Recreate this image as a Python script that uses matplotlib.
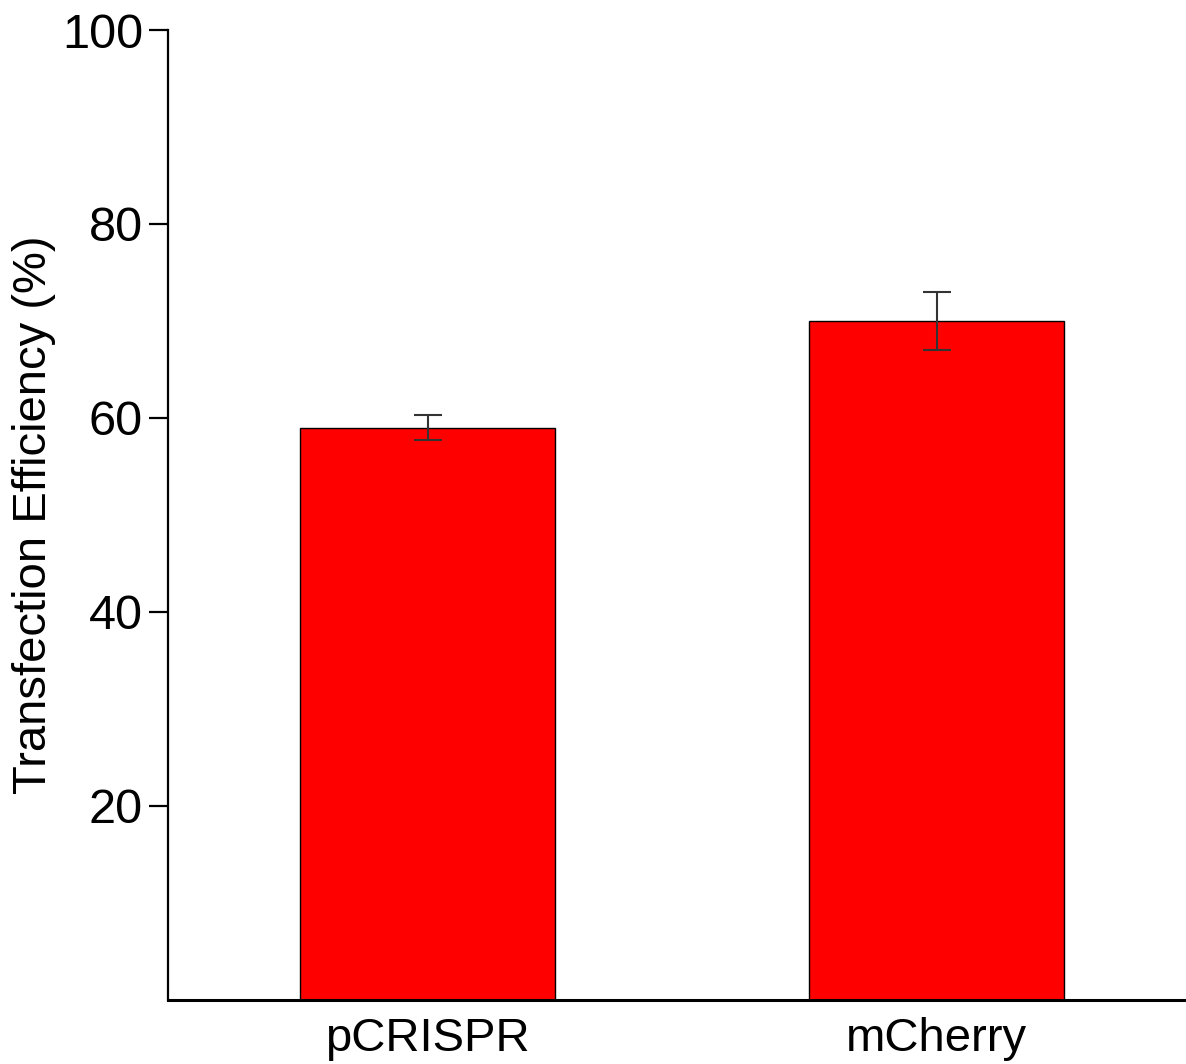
import matplotlib.pyplot as plt

categories = ["pCRISPR", "mCherry"]
efficiency = [59.0, 70.0]
errors = [1.3, 3.0]
y_ticks = [20, 40, 60, 80, 100]

plt.rcParams['font.family'] = ['Liberation Sans', 'DejaVu Sans']

fig = plt.figure(figsize=(11.86, 10.64), dpi=100)
ax = fig.add_axes([0.1417, 0.0602, 0.8583, 0.9116])

x = range(len(categories))
ax.bar(x, efficiency, width=0.5, color="#ff0000", edgecolor="black", linewidth=1.0,
       yerr=errors, capsize=10, error_kw=dict(ecolor="#333333", elinewidth=1.5, capthick=1.5))

ax.set_xlim(-0.51, 1.49)
ax.set_ylim(0, 100)
ax.set_yticks(y_ticks)
ax.set_xticks(list(x))
ax.set_xticklabels(categories)
ax.set_ylabel("Transfection Efficiency (%)", fontsize=34, labelpad=4)

ax.spines["top"].set_visible(False)
ax.spines["right"].set_visible(False)
ax.spines["left"].set_linewidth(1.6)
ax.spines["bottom"].set_linewidth(2.2)
ax.tick_params(axis="y", length=14, width=1.6, labelsize=35, pad=4)
ax.tick_params(axis="x", length=0, labelsize=34, pad=12)

fig.savefig("out.png", dpi=100)
